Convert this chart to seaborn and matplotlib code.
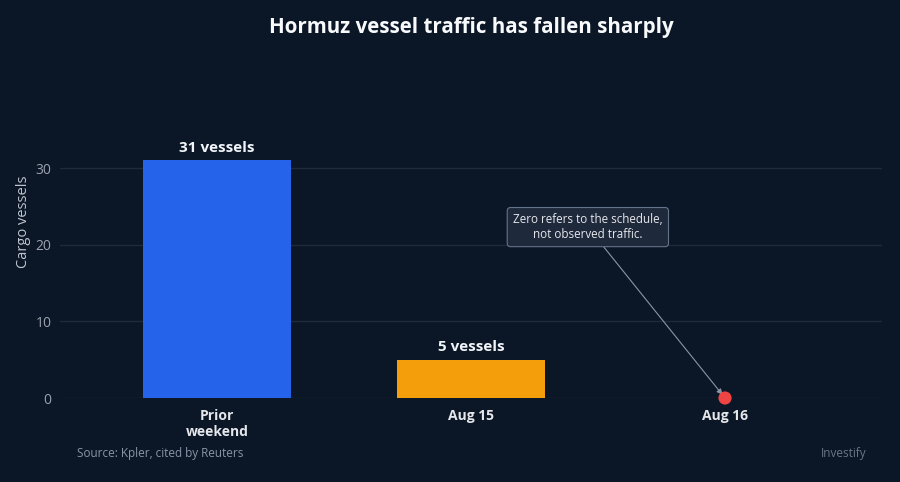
import matplotlib
matplotlib.use("Agg")
import matplotlib.pyplot as plt
import seaborn as sns
import pandas as pd

categories = ["Prior\nweekend", "Aug 15", "Aug 16"]
vessels = [31, 5, 0]
bar_labels = ["31 vessels", "5 vessels", ""]
colors = ["#2563eb", "#f59e0b", "#ef4444"]
yticks = [0, 10, 20, 30]

BG = "#0b1626"
sns.set_theme(style="dark")
plt.rcParams["font.family"] = ["Open Sans", "DejaVu Sans"]

df = pd.DataFrame({"cat": categories, "v": vessels})

fig = plt.figure(figsize=(9, 4.82), dpi=100, facecolor=BG)
ax = fig.add_axes([60 / 900, 1 - 398 / 482, 822 / 900, 328 / 482])
ax.set_facecolor(BG)

sns.barplot(data=df.iloc[:2], x="cat", y="v", hue="cat", palette=colors[:2],
            order=categories, hue_order=categories[:2], width=0.58,
            legend=False, ax=ax, saturation=1, linewidth=0, edgecolor="none")
sns.scatterplot(x=[categories[2]], y=[vessels[2]], color=colors[2], s=90,
                edgecolor="none", ax=ax, zorder=5, clip_on=False)

ax.set_xlim(-0.618, 2.618)
ax.set_ylim(0, 42.8)
ax.set_yticks(yticks)
ax.set_yticklabels([str(t) for t in yticks], color="#9ca3af", fontsize=10)
ax.grid(axis="y", color="#1f2b3d", linewidth=1)
ax.grid(axis="x", visible=False)
ax.set_axisbelow(True)
for s in ax.spines.values():
    s.set_visible(False)
ax.tick_params(axis="both", length=0, pad=6)
ax.tick_params(axis="x", pad=8)
for lbl in ax.get_xticklabels():
    lbl.set_color("#e5e7eb")
    lbl.set_fontweight("bold")
    lbl.set_fontsize(10)
    lbl.set_linespacing(1.2)
ax.set_xlabel("")
ax.set_ylabel("Cargo vessels", color="#c0c6d0", fontsize=10.5, labelpad=0)
ax.yaxis.set_label_coords(-29 / 822, 0.5 + 12 / 328)

for i, (v, t) in enumerate(zip(vessels, bar_labels)):
    if t:
        ax.text(i, v + 0.75, t, ha="center", va="bottom", color="#f1f5f9",
                fontsize=11, fontweight="bold")

ax.annotate("Zero refers to the schedule,\nnot observed traffic.",
            xy=(2, 0), xytext=(1.46, 22.3), ha="center", va="center",
            fontsize=8.4, color="#e5e7eb", linespacing=1.15,
            bbox=dict(boxstyle="round,pad=0.5,rounding_size=0.3",
                      fc="#1e293b", ec="#64748b", lw=0.8),
            arrowprops=dict(arrowstyle="-|>", color="#8b95a5", lw=0.8,
                            shrinkA=0, shrinkB=3, mutation_scale=8),
            annotation_clip=False)

fig.text(471 / 900, 1 - 27 / 482, "Hormuz vessel traffic has fallen sharply",
         ha="center", va="center", color="#f8fafc", fontsize=14.8, fontweight="bold")
fig.text(77 / 900, 1 - 454 / 482, "Source: Kpler, cited by Reuters",
         ha="left", va="center", color="#8a94a6", fontsize=8.5)
fig.text(866 / 900, 1 - 454 / 482, "Investify",
         ha="right", va="center", color="#6b7585", fontsize=8.5)

fig.savefig("out.png", dpi=100, facecolor=BG)
